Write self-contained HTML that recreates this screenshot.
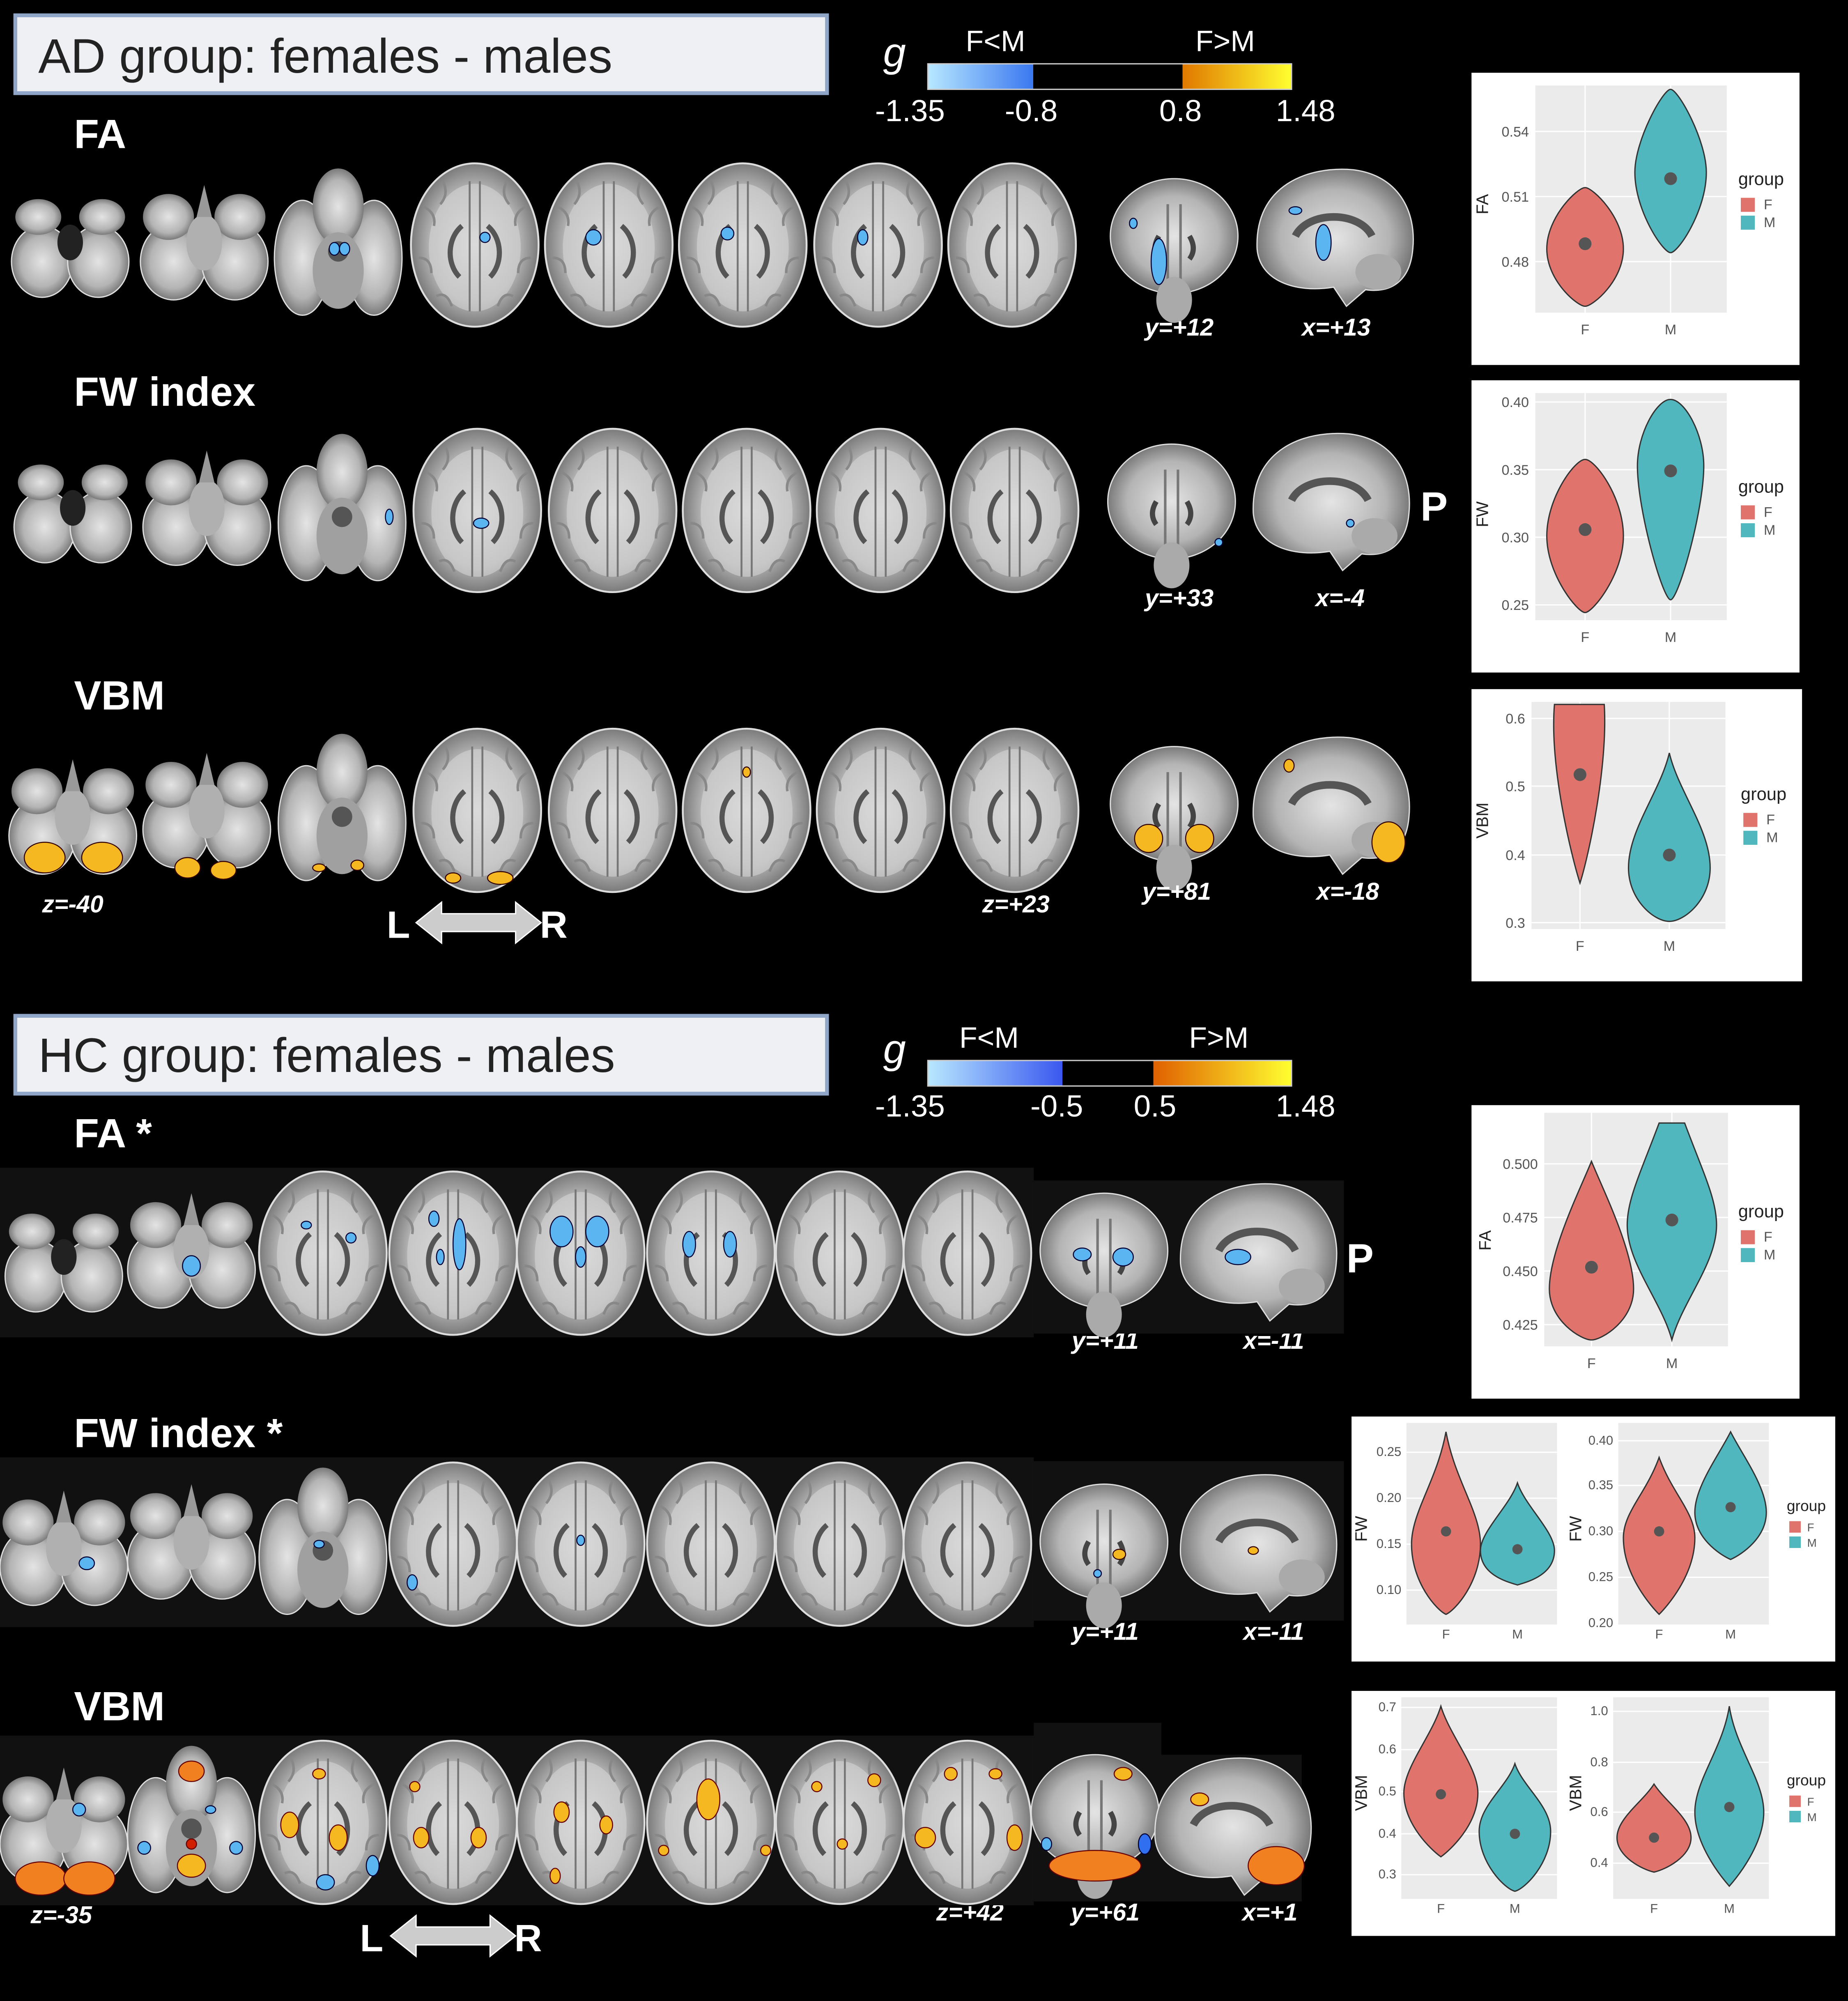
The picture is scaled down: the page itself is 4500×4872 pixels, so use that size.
<!DOCTYPE html>
<html><head><meta charset="utf-8"><style>
html,body{margin:0;padding:0;background:#000;}
svg{display:block;}
text{font-family:"Liberation Sans",sans-serif;}
</style></head><body>
<svg width="4500" height="4872" viewBox="0 0 1448 1568" preserveAspectRatio="none" xmlns="http://www.w3.org/2000/svg">
<defs>
<linearGradient id="cbA" x1="0" x2="1" y1="0" y2="0">
<stop offset="0" stop-color="#b8e8ff"/><stop offset="0.29" stop-color="#3a78f0"/><stop offset="0.29" stop-color="#000"/><stop offset="0.7" stop-color="#000"/><stop offset="0.7" stop-color="#e07800"/><stop offset="1" stop-color="#ffff30"/>
</linearGradient>
<linearGradient id="cbH" x1="0" x2="1" y1="0" y2="0">
<stop offset="0" stop-color="#b8e8ff"/><stop offset="0.37" stop-color="#3a58f0"/><stop offset="0.37" stop-color="#000"/><stop offset="0.62" stop-color="#000"/><stop offset="0.62" stop-color="#e06000"/><stop offset="1" stop-color="#ffff30"/>
</linearGradient>
<radialGradient id="bg1"><stop offset="0" stop-color="#e4e4e4"/><stop offset="0.7" stop-color="#b4b4b4"/><stop offset="1" stop-color="#7a7a7a"/></radialGradient>
<g id="ax">
<ellipse cx="0" cy="0" rx="50" ry="64" fill="url(#bg1)" stroke="#ddd" stroke-width="1.5"/>
<ellipse cx="0" cy="2" rx="36" ry="50" fill="#d4d4d4" opacity="0.6"/>
<path d="M-4,-50 L-4,52 M4,-50 L4,52" stroke="#777" stroke-width="1.5"/>
<path d="M-10,-15 C-22,-5 -22,15 -12,25 M10,-15 C22,-5 22,15 12,25" stroke="#555" stroke-width="4" fill="none"/>
<path d="M-40,-30 q10,5 8,15 M40,-30 q-10,5 -8,15 M-44,10 q10,0 10,12 M44,10 q-10,0 -10,12 M-25,-50 q5,10 -2,18 M25,-50 q-5,10 2,18 M-30,40 q8,-4 12,8 M30,40 q-8,-4 -12,8" stroke="#888" stroke-width="2" fill="none"/>
</g>
<g id="cb">
<ellipse cx="-22" cy="5" rx="24" ry="28" fill="url(#bg1)" stroke="#ddd"/>
<ellipse cx="22" cy="5" rx="24" ry="28" fill="url(#bg1)" stroke="#ddd"/>
<ellipse cx="-25" cy="-30" rx="18" ry="14" fill="url(#bg1)"/>
<ellipse cx="25" cy="-30" rx="18" ry="14" fill="url(#bg1)"/>
<ellipse cx="0" cy="-10" rx="10" ry="14" fill="#222"/>
</g>
<g id="cb2">
<ellipse cx="-24" cy="10" rx="26" ry="30" fill="url(#bg1)" stroke="#ddd"/>
<ellipse cx="24" cy="10" rx="26" ry="30" fill="url(#bg1)" stroke="#ddd"/>
<ellipse cx="-28" cy="-25" rx="20" ry="18" fill="url(#bg1)"/>
<ellipse cx="28" cy="-25" rx="20" ry="18" fill="url(#bg1)"/>
<ellipse cx="0" cy="-5" rx="14" ry="22" fill="#b0b0b0"/>
<path d="M-6,-25 L0,-50 L6,-25 Z" fill="#999"/>
</g>
<g id="tm">
<ellipse cx="-28" cy="10" rx="22" ry="45" fill="url(#bg1)" stroke="#ddd"/>
<ellipse cx="28" cy="10" rx="22" ry="45" fill="url(#bg1)" stroke="#ddd"/>
<ellipse cx="0" cy="-30" rx="20" ry="30" fill="url(#bg1)"/>
<ellipse cx="0" cy="20" rx="20" ry="30" fill="#a0a0a0"/>
<circle cx="0" cy="5" r="8" fill="#555"/>
</g>
<g id="co">
<ellipse cx="0" cy="-5" rx="50" ry="45" fill="url(#bg1)" stroke="#ddd"/>
<path d="M-5,-30 L-5,30 M5,-30 L5,30" stroke="#777" stroke-width="2"/>
<ellipse cx="0" cy="45" rx="14" ry="18" fill="#aaa"/>
<path d="M-12,-5 q-6,10 0,18 M12,-5 q6,10 0,18" stroke="#444" stroke-width="4" fill="none"/>
</g>
<g id="sg">
<path d="M-60,10 C-62,-40 -20,-55 15,-52 C50,-48 65,-20 62,10 C60,35 45,45 25,42 L10,55 L0,40 C-30,45 -58,35 -60,10 Z" fill="url(#bg1)" stroke="#ddd"/>
<path d="M-30,0 C-20,-20 20,-20 30,0" stroke="#555" stroke-width="6" fill="none"/>
<ellipse cx="35" cy="28" rx="18" ry="14" fill="#aaa"/>
</g>
</defs>
<rect width="1448" height="1568" fill="#000"/>

<rect x="12" y="12" width="636" height="61" fill="#eef0f3" stroke="#8fa6c8" stroke-width="3"/>
<text x="30" y="57" font-size="38" fill="#222">AD group: females - males</text>
<text x="692" y="52" font-size="32" font-style="italic" fill="#fff">g</text>
<rect x="727" y="50" width="285" height="20" fill="url(#cbA)" stroke="#ccc"/>
<text x="780" y="40" font-size="23" fill="#fff" text-anchor="middle">F&lt;M</text>
<text x="960" y="40" font-size="23" fill="#fff" text-anchor="middle">F&gt;M</text>
<g font-size="24" fill="#fff" text-anchor="middle"><text x="713" y="95">-1.35</text><text x="808" y="95">-0.8</text><text x="925" y="95">0.8</text><text x="1023" y="95">1.48</text></g>

<g font-weight="bold" fill="#fff" font-size="32">
<text x="58" y="116">FA</text>
<text x="58" y="318">FW index</text>
<text x="58" y="556">VBM</text>
<text x="58" y="899">FA  *</text>
<text x="58" y="1134">FW index  *</text>
<text x="58" y="1348">VBM</text>
<text x="1113" y="408">P</text>
<text x="1055" y="997">P</text>
</g>

<use href="#cb" x="55" y="200"/><use href="#cb2" x="160" y="195"/><use href="#tm" x="265" y="192"/>
<use href="#ax" x="372" y="192"/><use href="#ax" x="477" y="192"/><use href="#ax" x="582" y="192"/><use href="#ax" x="688" y="192"/><use href="#ax" x="793" y="192"/>
<use href="#co" x="920" y="190"/><use href="#sg" x="1045" y="185"/>
<g fill="#5bb5f0" stroke="#003" stroke-width="0.8">
<ellipse cx="262" cy="195" rx="4" ry="5"/><ellipse cx="270" cy="195" rx="4" ry="5"/><ellipse cx="380" cy="186" rx="4" ry="4"/>
<ellipse cx="465" cy="186" rx="6" ry="6"/><ellipse cx="570" cy="183" rx="5" ry="5"/><ellipse cx="676" cy="186" rx="4" ry="6"/>
<ellipse cx="908" cy="205" rx="6" ry="18"/><ellipse cx="888" cy="175" rx="3" ry="4"/><ellipse cx="1037" cy="190" rx="6" ry="14"/><ellipse cx="1015" cy="165" rx="5" ry="3"/>
</g>
<use href="#cb" x="57" y="408"/><use href="#cb2" x="162" y="403"/><use href="#tm" x="268" y="400"/>
<use href="#ax" x="374" y="400"/><use href="#ax" x="480" y="400"/><use href="#ax" x="585" y="400"/><use href="#ax" x="690" y="400"/><use href="#ax" x="795" y="400"/>
<use href="#co" x="918" y="398"/><use href="#sg" x="1042" y="392"/>
<g fill="#5bb5f0" stroke="#003" stroke-width="0.8"><ellipse cx="305" cy="405" rx="3" ry="6"/><ellipse cx="377" cy="410" rx="6" ry="4"/><ellipse cx="955" cy="425" rx="3" ry="3"/><ellipse cx="1058" cy="410" rx="3" ry="3"/></g>
<use href="#cb2" x="57" y="645"/><use href="#cb2" x="162" y="640"/><use href="#tm" x="268" y="635"/>
<use href="#ax" x="374" y="635"/><use href="#ax" x="480" y="635"/><use href="#ax" x="585" y="635"/><use href="#ax" x="690" y="635"/><use href="#ax" x="795" y="635"/>
<use href="#co" x="920" y="635"/><use href="#sg" x="1042" y="630"/>
<g fill="#f5b820" stroke="#300" stroke-width="0.8">
<ellipse cx="35" cy="672" rx="16" ry="12"/><ellipse cx="80" cy="672" rx="16" ry="12"/><ellipse cx="147" cy="680" rx="10" ry="8"/><ellipse cx="175" cy="682" rx="10" ry="7"/>
<ellipse cx="250" cy="680" rx="5" ry="3"/><ellipse cx="280" cy="678" rx="5" ry="4"/><ellipse cx="355" cy="688" rx="6" ry="4"/><ellipse cx="392" cy="688" rx="10" ry="5"/>
<ellipse cx="585" cy="605" rx="3" ry="4"/><ellipse cx="900" cy="657" rx="11" ry="11"/><ellipse cx="940" cy="657" rx="11" ry="11"/><ellipse cx="1088" cy="660" rx="13" ry="16"/><ellipse cx="1010" cy="600" rx="4" ry="5"/>
</g>
<g font-size="19" font-weight="bold" font-style="italic" fill="#fff" text-anchor="middle">
<text x="924" y="263">y=+12</text><text x="1047" y="263">x=+13</text>
<text x="924" y="475">y=+33</text><text x="1050" y="475">x=-4</text>
<text x="57" y="715">z=-40</text><text x="796" y="715">z=+23</text><text x="922" y="705">y=+81</text><text x="1056" y="705">x=-18</text>
<text x="866" y="1057">y=+11</text><text x="998" y="1057">x=-11</text>
<text x="866" y="1285">y=+11</text><text x="998" y="1285">x=-11</text>
<text x="48" y="1507">z=-35</text><text x="760" y="1505">z=+42</text><text x="866" y="1505">y=+61</text><text x="995" y="1505">x=+1</text>
</g>
<g>
<text x="303" y="735" font-size="30" font-weight="bold" fill="#fff">L</text><text x="423" y="735" font-size="30" font-weight="bold" fill="#fff">R</text>
<path d="M326,723 L346,707 L346,716 L404,716 L404,707 L424,723 L404,739 L404,730 L346,730 L346,739 Z" fill="#ccc" stroke="#fff"/>
<text x="282" y="1529" font-size="30" font-weight="bold" fill="#fff">L</text><text x="403" y="1529" font-size="30" font-weight="bold" fill="#fff">R</text>
<path d="M306,1517 L326,1501 L326,1510 L384,1510 L384,1501 L404,1517 L384,1533 L384,1524 L326,1524 L326,1533 Z" fill="#ccc" stroke="#fff"/>
</g>

<rect x="12" y="796" width="636" height="61" fill="#eef0f3" stroke="#8fa6c8" stroke-width="3"/>
<text x="30" y="840" font-size="38" fill="#222">HC group: females - males</text>
<text x="692" y="833" font-size="32" font-style="italic" fill="#fff">g</text>
<rect x="727" y="831" width="285" height="20" fill="url(#cbH)" stroke="#ccc"/>
<text x="775" y="821" font-size="23" fill="#fff" text-anchor="middle">F&lt;M</text>
<text x="955" y="821" font-size="23" fill="#fff" text-anchor="middle">F&gt;M</text>
<g font-size="24" fill="#fff" text-anchor="middle"><text x="713" y="875">-1.35</text><text x="828" y="875">-0.5</text><text x="905" y="875">0.5</text><text x="1023" y="875">1.48</text></g>

<rect x="0" y="915" width="810" height="133" fill="#111"/><rect x="810" y="925" width="243" height="120" fill="#111"/>
<rect x="0" y="1142" width="810" height="133" fill="#111"/><rect x="810" y="1145" width="243" height="125" fill="#111"/>
<rect x="0" y="1360" width="810" height="133" fill="#111"/><rect x="810" y="1350" width="100" height="140" fill="#111"/><rect x="910" y="1375" width="110" height="115" fill="#111"/>
<use href="#cb" x="50" y="995"/><use href="#cb2" x="150" y="985"/>
<use href="#ax" x="253" y="982"/><use href="#ax" x="355" y="982"/><use href="#ax" x="455" y="982"/><use href="#ax" x="557" y="982"/><use href="#ax" x="658" y="982"/><use href="#ax" x="758" y="982"/>
<use href="#co" x="865" y="985"/><use href="#sg" x="985" y="980"/>
<g fill="#5bb5f0" stroke="#003" stroke-width="0.8">
<ellipse cx="150" cy="992" rx="7" ry="8"/><ellipse cx="240" cy="960" rx="4" ry="3"/><ellipse cx="275" cy="970" rx="4" ry="4"/>
<ellipse cx="340" cy="955" rx="4" ry="6"/><ellipse cx="360" cy="975" rx="5" ry="20"/><ellipse cx="345" cy="985" rx="3" ry="6"/>
<ellipse cx="440" cy="965" rx="9" ry="12"/><ellipse cx="468" cy="965" rx="9" ry="12"/><ellipse cx="455" cy="985" rx="4" ry="8"/>
<ellipse cx="540" cy="975" rx="5" ry="10"/><ellipse cx="572" cy="975" rx="5" ry="10"/>
<ellipse cx="848" cy="983" rx="7" ry="5"/><ellipse cx="880" cy="985" rx="8" ry="7"/><ellipse cx="970" cy="985" rx="10" ry="6"/>
</g>
<use href="#cb2" x="50" y="1218"/><use href="#cb2" x="150" y="1213"/>
<use href="#tm" x="253" y="1210"/><use href="#ax" x="355" y="1210"/><use href="#ax" x="455" y="1210"/><use href="#ax" x="557" y="1210"/><use href="#ax" x="658" y="1210"/><use href="#ax" x="758" y="1210"/>
<use href="#co" x="865" y="1213"/><use href="#sg" x="985" y="1208"/>
<g fill="#5bb5f0" stroke="#003" stroke-width="0.8"><ellipse cx="68" cy="1225" rx="6" ry="5"/><ellipse cx="250" cy="1210" rx="4" ry="3"/><ellipse cx="323" cy="1240" rx="4" ry="6"/><ellipse cx="455" cy="1207" rx="3" ry="4"/><ellipse cx="860" cy="1233" rx="3" ry="3"/></g>
<g fill="#f5b820" stroke="#300" stroke-width="0.8"><ellipse cx="877" cy="1218" rx="5" ry="4"/><ellipse cx="982" cy="1215" rx="4" ry="3"/></g>
<use href="#cb2" x="50" y="1435"/><use href="#tm" x="150" y="1428"/>
<use href="#ax" x="253" y="1428"/><use href="#ax" x="355" y="1428"/><use href="#ax" x="455" y="1428"/><use href="#ax" x="557" y="1428"/><use href="#ax" x="658" y="1428"/><use href="#ax" x="758" y="1428"/>
<use href="#co" x="858" y="1425"/><use href="#sg" x="965" y="1430"/>
<g fill="#f5b820" stroke="#600" stroke-width="0.8">
<ellipse cx="32" cy="1472" rx="20" ry="13" fill="#f08020"/><ellipse cx="70" cy="1472" rx="20" ry="13" fill="#f08020"/>
<ellipse cx="150" cy="1388" rx="10" ry="8" fill="#f08020"/><ellipse cx="150" cy="1462" rx="11" ry="9"/><circle cx="150" cy="1445" r="4" fill="#d02000"/>
<ellipse cx="227" cy="1430" rx="7" ry="10"/><ellipse cx="265" cy="1440" rx="7" ry="10"/><ellipse cx="250" cy="1390" rx="5" ry="4"/>
<ellipse cx="330" cy="1440" rx="6" ry="8"/><ellipse cx="375" cy="1440" rx="6" ry="8"/><ellipse cx="325" cy="1400" rx="4" ry="4"/>
<ellipse cx="440" cy="1420" rx="6" ry="8"/><ellipse cx="475" cy="1430" rx="5" ry="7"/><ellipse cx="435" cy="1470" rx="4" ry="6"/>
<ellipse cx="555" cy="1410" rx="9" ry="16"/><ellipse cx="520" cy="1450" rx="4" ry="4"/><ellipse cx="600" cy="1450" rx="4" ry="4"/>
<ellipse cx="640" cy="1400" rx="4" ry="4"/><ellipse cx="685" cy="1395" rx="5" ry="5"/><ellipse cx="660" cy="1445" rx="4" ry="4"/>
<ellipse cx="745" cy="1390" rx="5" ry="5"/><ellipse cx="725" cy="1440" rx="8" ry="8"/><ellipse cx="795" cy="1440" rx="6" ry="10"/><ellipse cx="780" cy="1390" rx="5" ry="4"/>
<ellipse cx="858" cy="1462" rx="36" ry="12" fill="#f08020"/><ellipse cx="880" cy="1390" rx="7" ry="5"/>
<ellipse cx="1000" cy="1462" rx="22" ry="15" fill="#f08020"/><ellipse cx="940" cy="1410" rx="7" ry="5"/>
</g>
<g fill="#5bb5f0" stroke="#003" stroke-width="0.8"><ellipse cx="62" cy="1418" rx="5" ry="5"/><ellipse cx="113" cy="1448" rx="5" ry="5"/><ellipse cx="185" cy="1448" rx="5" ry="5"/><ellipse cx="165" cy="1418" rx="4" ry="3"/><ellipse cx="255" cy="1475" rx="7" ry="6"/><ellipse cx="292" cy="1462" rx="5" ry="8"/><ellipse cx="820" cy="1445" rx="4" ry="5"/><ellipse cx="897" cy="1445" rx="5" ry="8" fill="#3070f0"/></g>

<g font-size="11" fill="#555">
<rect x="1153" y="57" width="257" height="229" fill="#fff"/>
<rect x="1203" y="67" width="150" height="178" fill="#ebebeb"/>
<g stroke="#fff"><line x1="1203" y1="103" x2="1353" y2="103"/><line x1="1203" y1="154" x2="1353" y2="154"/><line x1="1203" y1="205" x2="1353" y2="205"/><line x1="1242" y1="67" x2="1242" y2="245"/><line x1="1309" y1="67" x2="1309" y2="245"/></g>
<path d="M1242,147 C1248,147 1272,170 1272,195 C1272,220 1248,240 1242,240 C1236,240 1212,220 1212,195 C1212,170 1236,147 1242,147Z" fill="#e0746c" stroke="#333"/>
<path d="M1309,70 C1315,70 1337,110 1337,135 C1337,165 1315,198 1309,198 C1303,198 1281,165 1281,135 C1281,110 1303,70 1309,70Z" fill="#4fb7bd" stroke="#333"/>
<circle cx="1242" cy="191" r="5"/><circle cx="1309" cy="140" r="5"/>
<text x="1198" y="107" text-anchor="end">0.54</text><text x="1198" y="158" text-anchor="end">0.51</text><text x="1198" y="209" text-anchor="end">0.48</text>
<text x="1242" y="262" text-anchor="middle">F</text><text x="1309" y="262" text-anchor="middle">M</text>
<text x="1166" y="160" transform="rotate(-90 1166 160)" font-size="13" fill="#222" text-anchor="middle">FA</text>
<text x="1362" y="145" font-size="14" fill="#222">group</text><rect x="1364" y="155" width="11" height="11" fill="#e0746c"/><rect x="1364" y="169" width="11" height="11" fill="#4fb7bd"/><text x="1382" y="164">F</text><text x="1382" y="178">M</text>
<rect x="1153" y="298" width="257" height="229" fill="#fff"/>
<rect x="1203" y="308" width="150" height="178" fill="#ebebeb"/>
<g stroke="#fff"><line x1="1203" y1="315" x2="1353" y2="315"/><line x1="1203" y1="368" x2="1353" y2="368"/><line x1="1203" y1="421" x2="1353" y2="421"/><line x1="1203" y1="474" x2="1353" y2="474"/><line x1="1242" y1="308" x2="1242" y2="486"/><line x1="1309" y1="308" x2="1309" y2="486"/></g>
<path d="M1242,360 C1250,360 1272,390 1272,420 C1272,450 1248,480 1242,480 C1236,480 1212,450 1212,420 C1212,390 1234,360 1242,360Z" fill="#e0746c" stroke="#333"/>
<path d="M1309,313 C1320,313 1335,340 1335,365 C1335,400 1315,470 1309,470 C1303,470 1283,400 1283,365 C1283,340 1298,313 1309,313Z" fill="#4fb7bd" stroke="#333"/>
<circle cx="1242" cy="415" r="5"/><circle cx="1309" cy="369" r="5"/>
<text x="1198" y="319" text-anchor="end">0.40</text><text x="1198" y="372" text-anchor="end">0.35</text><text x="1198" y="425" text-anchor="end">0.30</text><text x="1198" y="478" text-anchor="end">0.25</text>
<text x="1242" y="503" text-anchor="middle">F</text><text x="1309" y="503" text-anchor="middle">M</text>
<text x="1166" y="403" transform="rotate(-90 1166 403)" font-size="13" fill="#222" text-anchor="middle">FW</text>
<text x="1362" y="386" font-size="14" fill="#222">group</text><rect x="1364" y="396" width="11" height="11" fill="#e0746c"/><rect x="1364" y="410" width="11" height="11" fill="#4fb7bd"/><text x="1382" y="405">F</text><text x="1382" y="419">M</text>
<rect x="1153" y="540" width="259" height="229" fill="#fff"/>
<rect x="1200" y="550" width="152" height="178" fill="#ebebeb"/>
<g stroke="#fff"><line x1="1200" y1="563" x2="1352" y2="563"/><line x1="1200" y1="616" x2="1352" y2="616"/><line x1="1200" y1="670" x2="1352" y2="670"/><line x1="1200" y1="723" x2="1352" y2="723"/><line x1="1238" y1="550" x2="1238" y2="728"/><line x1="1308" y1="550" x2="1308" y2="728"/></g>
<path d="M1218,552 L1257,552 C1260,600 1245,670 1238,692 C1231,670 1214,600 1218,552Z" fill="#e0746c" stroke="#333"/>
<path d="M1308,590 C1315,620 1340,650 1340,680 C1340,705 1320,722 1308,722 C1296,722 1276,705 1276,680 C1276,650 1301,620 1308,590Z" fill="#4fb7bd" stroke="#333"/>
<circle cx="1238" cy="607" r="5"/><circle cx="1308" cy="670" r="5"/>
<text x="1195" y="567" text-anchor="end">0.6</text><text x="1195" y="620" text-anchor="end">0.5</text><text x="1195" y="674" text-anchor="end">0.4</text><text x="1195" y="727" text-anchor="end">0.3</text>
<text x="1238" y="745" text-anchor="middle">F</text><text x="1308" y="745" text-anchor="middle">M</text>
<text x="1166" y="643" transform="rotate(-90 1166 643)" font-size="13" fill="#222" text-anchor="middle">VBM</text>
<text x="1364" y="627" font-size="14" fill="#222">group</text><rect x="1366" y="637" width="11" height="11" fill="#e0746c"/><rect x="1366" y="651" width="11" height="11" fill="#4fb7bd"/><text x="1384" y="646">F</text><text x="1384" y="660">M</text>
<rect x="1153" y="866" width="257" height="230" fill="#fff"/>
<rect x="1210" y="872" width="144" height="183" fill="#ebebeb"/>
<g stroke="#fff"><line x1="1210" y1="912" x2="1354" y2="912"/><line x1="1210" y1="954" x2="1354" y2="954"/><line x1="1210" y1="996" x2="1354" y2="996"/><line x1="1210" y1="1038" x2="1354" y2="1038"/><line x1="1247" y1="872" x2="1247" y2="1055"/><line x1="1310" y1="872" x2="1310" y2="1055"/></g>
<path d="M1247,910 C1255,930 1280,980 1280,1010 C1280,1035 1255,1050 1247,1050 C1239,1050 1214,1035 1214,1010 C1214,980 1239,930 1247,910Z" fill="#e0746c" stroke="#333"/>
<path d="M1300,880 L1320,880 C1335,920 1345,940 1345,960 C1345,990 1318,1020 1310,1050 C1302,1020 1275,990 1275,960 C1275,940 1285,920 1300,880Z" fill="#4fb7bd" stroke="#333"/>
<circle cx="1247" cy="993" r="5"/><circle cx="1310" cy="956" r="5"/>
<text x="1205" y="916" text-anchor="end">0.500</text><text x="1205" y="958" text-anchor="end">0.475</text><text x="1205" y="1000" text-anchor="end">0.450</text><text x="1205" y="1042" text-anchor="end">0.425</text>
<text x="1247" y="1072" text-anchor="middle">F</text><text x="1310" y="1072" text-anchor="middle">M</text>
<text x="1168" y="972" transform="rotate(-90 1168 972)" font-size="13" fill="#222" text-anchor="middle">FA</text>
<text x="1362" y="954" font-size="14" fill="#222">group</text><rect x="1364" y="964" width="11" height="11" fill="#e0746c"/><rect x="1364" y="978" width="11" height="11" fill="#4fb7bd"/><text x="1382" y="973">F</text><text x="1382" y="987">M</text>
<rect x="1059" y="1110" width="379" height="192" fill="#fff"/>
<rect x="1102" y="1115" width="118" height="158" fill="#ebebeb"/><rect x="1268" y="1115" width="118" height="158" fill="#ebebeb"/>
<g stroke="#fff"><line x1="1102" y1="1138" x2="1220" y2="1138"/><line x1="1102" y1="1174" x2="1220" y2="1174"/><line x1="1102" y1="1210" x2="1220" y2="1210"/><line x1="1102" y1="1246" x2="1220" y2="1246"/>
<line x1="1268" y1="1129" x2="1386" y2="1129"/><line x1="1268" y1="1164" x2="1386" y2="1164"/><line x1="1268" y1="1200" x2="1386" y2="1200"/><line x1="1268" y1="1236" x2="1386" y2="1236"/></g>
<path d="M1133,1122 C1140,1160 1160,1185 1160,1210 C1160,1240 1140,1262 1133,1265 C1126,1262 1106,1240 1106,1210 C1106,1185 1126,1160 1133,1122Z" fill="#e0746c" stroke="#333"/>
<path d="M1189,1162 C1195,1180 1218,1200 1218,1215 C1218,1235 1195,1240 1189,1242 C1183,1240 1160,1235 1160,1215 C1160,1200 1183,1180 1189,1162Z" fill="#4fb7bd" stroke="#333"/>
<path d="M1300,1142 C1310,1170 1328,1185 1328,1205 C1328,1235 1305,1260 1300,1265 C1295,1260 1272,1235 1272,1205 C1272,1185 1290,1170 1300,1142Z" fill="#e0746c" stroke="#333"/>
<path d="M1356,1122 C1365,1140 1384,1165 1384,1185 C1384,1205 1365,1218 1356,1222 C1347,1218 1328,1205 1328,1185 C1328,1165 1347,1140 1356,1122Z" fill="#4fb7bd" stroke="#333"/>
<circle cx="1133" cy="1200" r="4"/><circle cx="1189" cy="1214" r="4"/><circle cx="1300" cy="1200" r="4"/><circle cx="1356" cy="1181" r="4"/>
<g font-size="10"><text x="1098" y="1141" text-anchor="end">0.25</text><text x="1098" y="1177" text-anchor="end">0.20</text><text x="1098" y="1213" text-anchor="end">0.15</text><text x="1098" y="1249" text-anchor="end">0.10</text>
<text x="1264" y="1132" text-anchor="end">0.40</text><text x="1264" y="1167" text-anchor="end">0.35</text><text x="1264" y="1203" text-anchor="end">0.30</text><text x="1264" y="1239" text-anchor="end">0.25</text><text x="1264" y="1275" text-anchor="end">0.20</text>
<text x="1133" y="1284" text-anchor="middle">F</text><text x="1189" y="1284" text-anchor="middle">M</text><text x="1300" y="1284" text-anchor="middle">F</text><text x="1356" y="1284" text-anchor="middle">M</text></g>
<text x="1071" y="1198" transform="rotate(-90 1071 1198)" font-size="13" fill="#222" text-anchor="middle">FW</text>
<text x="1239" y="1198" transform="rotate(-90 1239 1198)" font-size="13" fill="#222" text-anchor="middle">FW</text>
<text x="1400" y="1184" font-size="12" fill="#222">group</text><rect x="1402" y="1192" width="9" height="9" fill="#e0746c"/><rect x="1402" y="1204" width="9" height="9" fill="#4fb7bd"/><text x="1416" y="1200" font-size="9">F</text><text x="1416" y="1212" font-size="9">M</text>
<rect x="1059" y="1325" width="379" height="192" fill="#fff"/>
<rect x="1098" y="1330" width="122" height="158" fill="#ebebeb"/><rect x="1264" y="1330" width="122" height="158" fill="#ebebeb"/>
<g stroke="#fff"><line x1="1098" y1="1338" x2="1220" y2="1338"/><line x1="1098" y1="1371" x2="1220" y2="1371"/><line x1="1098" y1="1404" x2="1220" y2="1404"/><line x1="1098" y1="1437" x2="1220" y2="1437"/><line x1="1098" y1="1469" x2="1220" y2="1469"/>
<line x1="1264" y1="1341" x2="1386" y2="1341"/><line x1="1264" y1="1381" x2="1386" y2="1381"/><line x1="1264" y1="1420" x2="1386" y2="1420"/><line x1="1264" y1="1460" x2="1386" y2="1460"/></g>
<path d="M1129,1337 C1136,1360 1158,1385 1158,1405 C1158,1430 1136,1450 1129,1455 C1122,1450 1100,1430 1100,1405 C1100,1385 1122,1360 1129,1337Z" fill="#e0746c" stroke="#333"/>
<path d="M1187,1382 C1193,1400 1215,1415 1215,1435 C1215,1460 1195,1480 1187,1482 C1179,1480 1159,1460 1159,1435 C1159,1415 1181,1400 1187,1382Z" fill="#4fb7bd" stroke="#333"/>
<path d="M1296,1398 C1305,1412 1325,1425 1325,1440 C1325,1455 1305,1465 1296,1467 C1287,1465 1267,1455 1267,1440 C1267,1425 1287,1412 1296,1398Z" fill="#e0746c" stroke="#333"/>
<path d="M1355,1337 C1360,1370 1382,1395 1382,1420 C1382,1445 1362,1470 1355,1478 C1348,1470 1328,1445 1328,1420 C1328,1395 1350,1370 1355,1337Z" fill="#4fb7bd" stroke="#333"/>
<circle cx="1129" cy="1406" r="4"/><circle cx="1187" cy="1437" r="4"/><circle cx="1296" cy="1440" r="4"/><circle cx="1355" cy="1416" r="4"/>
<g font-size="10"><text x="1094" y="1341" text-anchor="end">0.7</text><text x="1094" y="1374" text-anchor="end">0.6</text><text x="1094" y="1407" text-anchor="end">0.5</text><text x="1094" y="1440" text-anchor="end">0.4</text><text x="1094" y="1472" text-anchor="end">0.3</text>
<text x="1260" y="1344" text-anchor="end">1.0</text><text x="1260" y="1384" text-anchor="end">0.8</text><text x="1260" y="1423" text-anchor="end">0.6</text><text x="1260" y="1463" text-anchor="end">0.4</text>
<text x="1129" y="1499" text-anchor="middle">F</text><text x="1187" y="1499" text-anchor="middle">M</text><text x="1296" y="1499" text-anchor="middle">F</text><text x="1355" y="1499" text-anchor="middle">M</text></g>
<text x="1071" y="1405" transform="rotate(-90 1071 1405)" font-size="13" fill="#222" text-anchor="middle">VBM</text>
<text x="1239" y="1405" transform="rotate(-90 1239 1405)" font-size="13" fill="#222" text-anchor="middle">VBM</text>
<text x="1400" y="1399" font-size="12" fill="#222">group</text><rect x="1402" y="1407" width="9" height="9" fill="#e0746c"/><rect x="1402" y="1419" width="9" height="9" fill="#4fb7bd"/><text x="1416" y="1415" font-size="9">F</text><text x="1416" y="1427" font-size="9">M</text>
</g>
</svg>
</body></html>
